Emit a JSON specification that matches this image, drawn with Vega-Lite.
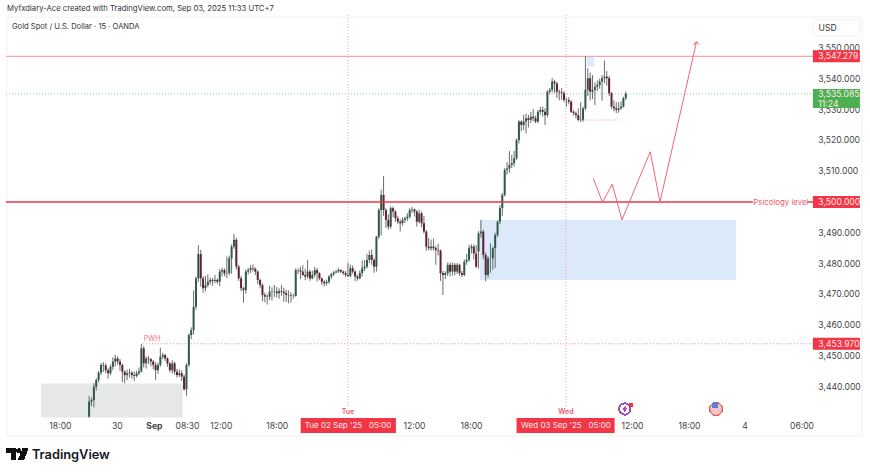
{"$schema":"https://vega.github.io/schema/vega-lite/v6.json","width":805,"height":403,"autosize":{"type":"none"},"padding":{"left":6,"right":59,"top":15,"bottom":56},"background":"#ffffff","config":{"view":{"stroke":null},"font":"Inter","text":{"font":"Inter"},"axis":{"labelOverlap":false,"labelSeparation":0}},"title":{"text":"Myfxdiary-Ace created with TradingView.com, Sep 03, 2025 11:33 UTC+7","anchor":"start","frame":"group","offset":2,"dx":1,"fontSize":7.7,"font":"Inter","fontWeight":"normal","color":"#333333"},
"data":{"name":"candles","values":[
{"i":35,"o":3430.3,"h":3437,"l":3430,"c":3435.2},{"i":36,"o":3435.2,"h":3436.5,"l":3433.8,"c":3435.7},{"i":37,"o":3435.7,"h":3441.2,"l":3433.3,"c":3440},{"i":38,"o":3440,"h":3442.8,"l":3438.8,"c":3442.2},{"i":39,"o":3442.2,"h":3445.2,"l":3441.4,"c":3444.6},{"i":40,"o":3444.6,"h":3447.7,"l":3443.8,"c":3447.1},{"i":41,"o":3447.1,"h":3448,"l":3444.8,"c":3446.9},{"i":42,"o":3446.9,"h":3447.6,"l":3444.4,"c":3445.4},{"i":43,"o":3445.4,"h":3446,"l":3442.6,"c":3444.4},{"i":44,"o":3444.4,"h":3447.2,"l":3443.8,"c":3446.5},{"i":45,"o":3446.5,"h":3449.6,"l":3445.4,"c":3448.2},{"i":46,"o":3448.2,"h":3450.4,"l":3446.6,"c":3449.2},{"i":47,"o":3449.2,"h":3449.9,"l":3447.2,"c":3448.2},{"i":48,"o":3448.2,"h":3449,"l":3445.2,"c":3447.1},{"i":49,"o":3447.1,"h":3447.5,"l":3441.5,"c":3444.9},{"i":50,"o":3444.9,"h":3445.3,"l":3441.2,"c":3443.8},{"i":51,"o":3443.8,"h":3445.6,"l":3442.2,"c":3444.4},{"i":52,"o":3444.4,"h":3445.9,"l":3443,"c":3444.6},{"i":53,"o":3444.6,"h":3445.1,"l":3442.6,"c":3443.8},{"i":54,"o":3443.8,"h":3445,"l":3441.9,"c":3443.5},{"i":55,"o":3443.5,"h":3445.2,"l":3443,"c":3444.4},{"i":56,"o":3444.4,"h":3446.3,"l":3443.8,"c":3445},{"i":57,"o":3445,"h":3453.9,"l":3444.6,"c":3452.5},{"i":58,"o":3452.5,"h":3453.2,"l":3446.3,"c":3447.6},{"i":59,"o":3447.6,"h":3449.9,"l":3445.9,"c":3449.2},{"i":60,"o":3449.2,"h":3450,"l":3447.4,"c":3449},{"i":61,"o":3449,"h":3449.3,"l":3446.7,"c":3448.2},{"i":62,"o":3448.2,"h":3448.7,"l":3445.7,"c":3447.1},{"i":63,"o":3447.1,"h":3448,"l":3442.2,"c":3445.4},{"i":64,"o":3445.4,"h":3447.8,"l":3444.2,"c":3447.1},{"i":65,"o":3447.1,"h":3452.7,"l":3446.5,"c":3449.8},{"i":66,"o":3449.8,"h":3451,"l":3449,"c":3450.3},{"i":67,"o":3450.3,"h":3450.7,"l":3448.4,"c":3449.2},{"i":68,"o":3449.2,"h":3449.6,"l":3446.5,"c":3447.6},{"i":69,"o":3447.6,"h":3448,"l":3444.7,"c":3445.4},{"i":70,"o":3445.4,"h":3448.6,"l":3444.3,"c":3447.6},{"i":71,"o":3447.6,"h":3448.2,"l":3443.9,"c":3444.9},{"i":72,"o":3444.9,"h":3445.8,"l":3443,"c":3443.8},{"i":73,"o":3443.8,"h":3445.6,"l":3443.2,"c":3444.4},{"i":74,"o":3444.4,"h":3445.3,"l":3441.9,"c":3443.3},{"i":75,"o":3443.3,"h":3444,"l":3438.7,"c":3439.2},{"i":76,"o":3439.2,"h":3447.6,"l":3437.1,"c":3447.1},{"i":77,"o":3447.1,"h":3457.4,"l":3446.5,"c":3456.8},{"i":78,"o":3456.8,"h":3459.3,"l":3455.5,"c":3458.4},{"i":79,"o":3458.4,"h":3471.3,"l":3457,"c":3466},{"i":80,"o":3466,"h":3475.8,"l":3465,"c":3475.2},{"i":81,"o":3475.2,"h":3486,"l":3474,"c":3483.1},{"i":82,"o":3483.1,"h":3484.5,"l":3472.5,"c":3475.2},{"i":83,"o":3475.2,"h":3476,"l":3470.5,"c":3472},{"i":84,"o":3472,"h":3476,"l":3471,"c":3473},{"i":85,"o":3473,"h":3476.5,"l":3472.4,"c":3474.1},{"i":86,"o":3474.1,"h":3475.5,"l":3473.2,"c":3474.7},{"i":87,"o":3474.7,"h":3475.3,"l":3472.8,"c":3474.4},{"i":88,"o":3474.4,"h":3476.3,"l":3473.6,"c":3474.7},{"i":89,"o":3474.7,"h":3475.2,"l":3473.4,"c":3474.1},{"i":90,"o":3474.1,"h":3478.3,"l":3472.7,"c":3477.4},{"i":91,"o":3477.4,"h":3478.6,"l":3475.8,"c":3477.9},{"i":92,"o":3477.9,"h":3478.4,"l":3475.9,"c":3476.8},{"i":93,"o":3476.8,"h":3482.3,"l":3475.3,"c":3476.9},{"i":94,"o":3476.9,"h":3482.6,"l":3476.2,"c":3481.7},{"i":95,"o":3481.7,"h":3486.2,"l":3476.7,"c":3485.5},{"i":96,"o":3485.5,"h":3489.6,"l":3484.8,"c":3487.7},{"i":97,"o":3487.7,"h":3488.4,"l":3478,"c":3479},{"i":98,"o":3479,"h":3479.6,"l":3474.4,"c":3475.2},{"i":99,"o":3475.2,"h":3476,"l":3471,"c":3472},{"i":100,"o":3472,"h":3472.5,"l":3467.3,"c":3471.4},{"i":101,"o":3471.4,"h":3478.1,"l":3470.2,"c":3477.4},{"i":102,"o":3477.4,"h":3478.6,"l":3476.5,"c":3477.9},{"i":103,"o":3477.9,"h":3479.5,"l":3476.9,"c":3478.5},{"i":104,"o":3478.5,"h":3479.7,"l":3477.4,"c":3478.3},{"i":105,"o":3478.3,"h":3478.8,"l":3476.3,"c":3477.4},{"i":106,"o":3477.4,"h":3477.8,"l":3473.4,"c":3474.7},{"i":107,"o":3474.7,"h":3475.1,"l":3472,"c":3473},{"i":108,"o":3473,"h":3473.6,"l":3467.8,"c":3469.8},{"i":109,"o":3469.8,"h":3470.6,"l":3467.4,"c":3469.3},{"i":110,"o":3469.3,"h":3470.1,"l":3466.7,"c":3469.2},{"i":111,"o":3469.2,"h":3472.8,"l":3468.1,"c":3470.9},{"i":112,"o":3470.9,"h":3472.3,"l":3468,"c":3470.8},{"i":113,"o":3470.8,"h":3473.1,"l":3469.2,"c":3470.9},{"i":114,"o":3470.9,"h":3472.4,"l":3469,"c":3470.4},{"i":115,"o":3470.4,"h":3472,"l":3468.6,"c":3471.1},{"i":116,"o":3471.1,"h":3473,"l":3469.5,"c":3470.9},{"i":117,"o":3470.9,"h":3472.2,"l":3467.6,"c":3470.4},{"i":118,"o":3470.4,"h":3471.5,"l":3467.5,"c":3469.8},{"i":119,"o":3469.8,"h":3471.3,"l":3467.1,"c":3469.7},{"i":120,"o":3469.7,"h":3470.7,"l":3467.3,"c":3469.5},{"i":121,"o":3469.5,"h":3470.2,"l":3468.6,"c":3469.5},{"i":122,"o":3469.5,"h":3478.4,"l":3469.2,"c":3477.9},{"i":123,"o":3477.9,"h":3478.5,"l":3476.6,"c":3477.8},{"i":124,"o":3477.8,"h":3479,"l":3475,"c":3477.4},{"i":125,"o":3477.4,"h":3479.5,"l":3475.9,"c":3476.3},{"i":126,"o":3476.3,"h":3478.3,"l":3474.6,"c":3475.8},{"i":127,"o":3475.8,"h":3481.2,"l":3475.2,"c":3477.4},{"i":128,"o":3477.4,"h":3478,"l":3474.4,"c":3475.2},{"i":129,"o":3475.2,"h":3477.6,"l":3474.9,"c":3476.3},{"i":130,"o":3476.3,"h":3478.9,"l":3475.7,"c":3477.9},{"i":131,"o":3477.9,"h":3478.6,"l":3474.2,"c":3476.9},{"i":132,"o":3476.9,"h":3477.2,"l":3474.6,"c":3475.2},{"i":133,"o":3475.2,"h":3475.5,"l":3473,"c":3474.1},{"i":134,"o":3474.1,"h":3474.6,"l":3472.6,"c":3473.6},{"i":135,"o":3473.6,"h":3474.8,"l":3472.9,"c":3474.1},{"i":136,"o":3474.1,"h":3476.2,"l":3473.4,"c":3475.8},{"i":137,"o":3475.8,"h":3477,"l":3475,"c":3476.6},{"i":138,"o":3476.6,"h":3477.6,"l":3476,"c":3477.1},{"i":139,"o":3477.1,"h":3478,"l":3476.8,"c":3477.4},{"i":140,"o":3477.4,"h":3478.6,"l":3477,"c":3477.9},{"i":141,"o":3477.9,"h":3478.2,"l":3476.9,"c":3477.4},{"i":142,"o":3477.4,"h":3477.8,"l":3476.3,"c":3476.9},{"i":143,"o":3476.9,"h":3477.6,"l":3475.7,"c":3476.3},{"i":144,"o":3476.3,"h":3480.3,"l":3475.6,"c":3476},{"i":145,"o":3476,"h":3479.7,"l":3475.5,"c":3478.5},{"i":146,"o":3478.5,"h":3479.4,"l":3476.7,"c":3477.4},{"i":147,"o":3477.4,"h":3477.8,"l":3474.3,"c":3475.8},{"i":148,"o":3475.8,"h":3476.4,"l":3474.5,"c":3475.2},{"i":149,"o":3475.2,"h":3477.8,"l":3474.9,"c":3476.9},{"i":150,"o":3476.9,"h":3481,"l":3475.8,"c":3478.5},{"i":151,"o":3478.5,"h":3481.2,"l":3477.6,"c":3479},{"i":152,"o":3479,"h":3483.2,"l":3478.4,"c":3481.2},{"i":153,"o":3481.2,"h":3484.2,"l":3480.2,"c":3482.8},{"i":154,"o":3482.8,"h":3484.6,"l":3479.6,"c":3481.2},{"i":155,"o":3481.2,"h":3481.8,"l":3477,"c":3479},{"i":156,"o":3479,"h":3489,"l":3477.4,"c":3488.7},{"i":157,"o":3488.7,"h":3498,"l":3488,"c":3497.4},{"i":158,"o":3497.4,"h":3504,"l":3489.2,"c":3502.3},{"i":159,"o":3502.3,"h":3508.4,"l":3495.5,"c":3497.4},{"i":160,"o":3497.4,"h":3498,"l":3491.6,"c":3494.2},{"i":161,"o":3494.2,"h":3496,"l":3491,"c":3492},{"i":162,"o":3492,"h":3498.6,"l":3491.3,"c":3498},{"i":163,"o":3498,"h":3498.5,"l":3495,"c":3496.9},{"i":164,"o":3496.9,"h":3497.3,"l":3493.6,"c":3494.7},{"i":165,"o":3494.7,"h":3495.5,"l":3492.8,"c":3493.6},{"i":166,"o":3493.6,"h":3494.3,"l":3490.4,"c":3493.1},{"i":167,"o":3493.1,"h":3495,"l":3492.3,"c":3494.2},{"i":168,"o":3494.2,"h":3495.3,"l":3493.2,"c":3494.7},{"i":169,"o":3494.7,"h":3496.4,"l":3493.8,"c":3495.2},{"i":170,"o":3495.2,"h":3498,"l":3494.6,"c":3497.4},{"i":171,"o":3497.4,"h":3498.4,"l":3496.4,"c":3497.6},{"i":172,"o":3497.6,"h":3497.9,"l":3495.3,"c":3496.9},{"i":173,"o":3496.9,"h":3497.4,"l":3492,"c":3493.6},{"i":174,"o":3493.6,"h":3497.5,"l":3493,"c":3496.3},{"i":175,"o":3496.3,"h":3496.9,"l":3491.8,"c":3493.1},{"i":176,"o":3493.1,"h":3495.5,"l":3489.8,"c":3490.4},{"i":177,"o":3490.4,"h":3490.9,"l":3484.2,"c":3485.5},{"i":178,"o":3485.5,"h":3488.3,"l":3484.3,"c":3485},{"i":179,"o":3485,"h":3487.8,"l":3484.2,"c":3485.5},{"i":180,"o":3485.5,"h":3488.1,"l":3484.2,"c":3485},{"i":181,"o":3485,"h":3485.8,"l":3479.6,"c":3484.4},{"i":182,"o":3484.4,"h":3486.4,"l":3482.6,"c":3484.2},{"i":183,"o":3484.2,"h":3484.6,"l":3474.4,"c":3476.9},{"i":184,"o":3476.9,"h":3477.6,"l":3469.8,"c":3476.3},{"i":185,"o":3476.3,"h":3477.5,"l":3475,"c":3476.9},{"i":186,"o":3476.9,"h":3480.3,"l":3476,"c":3479.6},{"i":187,"o":3479.6,"h":3480.4,"l":3475.8,"c":3477.4},{"i":188,"o":3477.4,"h":3480.4,"l":3476.1,"c":3479.6},{"i":189,"o":3479.6,"h":3480.2,"l":3476.2,"c":3477.4},{"i":190,"o":3477.4,"h":3480.2,"l":3476.6,"c":3479.6},{"i":191,"o":3479.6,"h":3480,"l":3476,"c":3476.9},{"i":192,"o":3476.9,"h":3477.6,"l":3475.6,"c":3476.3},{"i":193,"o":3476.3,"h":3481.4,"l":3475.9,"c":3480.6},{"i":194,"o":3480.6,"h":3483.2,"l":3479.6,"c":3481.2},{"i":195,"o":3481.2,"h":3486.1,"l":3480.6,"c":3485},{"i":196,"o":3485,"h":3486.3,"l":3483.3,"c":3485.5},{"i":197,"o":3485.5,"h":3486.2,"l":3481.4,"c":3483.3},{"i":198,"o":3483.3,"h":3486,"l":3478.6,"c":3479},{"i":199,"o":3483.9,"h":3490.5,"l":3478.4,"c":3489.8},{"i":200,"o":3489.8,"h":3494.2,"l":3488.4,"c":3490.4},{"i":201,"o":3490.4,"h":3491,"l":3481.4,"c":3482.8},{"i":202,"o":3482.8,"h":3483.6,"l":3474.2,"c":3476.3},{"i":203,"o":3476.3,"h":3482.4,"l":3475.4,"c":3481.7},{"i":204,"o":3481.7,"h":3486.6,"l":3477,"c":3481.7},{"i":205,"o":3481.7,"h":3485.6,"l":3478,"c":3485},{"i":206,"o":3485,"h":3490,"l":3478.6,"c":3489.3},{"i":207,"o":3489.3,"h":3494,"l":3488.6,"c":3493.6},{"i":208,"o":3493.6,"h":3499,"l":3492.8,"c":3498},{"i":209,"o":3498,"h":3502.9,"l":3495.5,"c":3502.3},{"i":210,"o":3502.3,"h":3511,"l":3501.8,"c":3510.4},{"i":211,"o":3510.4,"h":3513,"l":3508.9,"c":3510.9},{"i":212,"o":3510.9,"h":3516.5,"l":3509.5,"c":3512},{"i":213,"o":3512,"h":3515.3,"l":3511,"c":3512.6},{"i":214,"o":3512.6,"h":3516.6,"l":3511.5,"c":3514.2},{"i":215,"o":3514.2,"h":3520.6,"l":3513.7,"c":3520.1},{"i":216,"o":3520.1,"h":3526.6,"l":3519,"c":3526.1},{"i":217,"o":3526.1,"h":3526.5,"l":3523,"c":3525},{"i":218,"o":3525,"h":3528.3,"l":3523.4,"c":3526.1},{"i":219,"o":3526.1,"h":3528.6,"l":3522.3,"c":3527.2},{"i":220,"o":3527.2,"h":3528.3,"l":3524.2,"c":3526.6},{"i":221,"o":3526.6,"h":3529.2,"l":3525.6,"c":3527.7},{"i":222,"o":3527.7,"h":3530.2,"l":3526.2,"c":3527.2},{"i":223,"o":3527.2,"h":3528,"l":3525.6,"c":3526.1},{"i":224,"o":3526.1,"h":3529.8,"l":3525.5,"c":3529.3},{"i":225,"o":3529.3,"h":3530.9,"l":3528.4,"c":3529.9},{"i":226,"o":3529.9,"h":3531,"l":3527.7,"c":3529.3},{"i":227,"o":3529.3,"h":3530.5,"l":3525,"c":3528.2},{"i":228,"o":3528.2,"h":3536.3,"l":3527.5,"c":3535.8},{"i":229,"o":3535.8,"h":3537,"l":3535,"c":3536.4},{"i":230,"o":3536.4,"h":3540.2,"l":3535.6,"c":3539.1},{"i":231,"o":3539.1,"h":3539.7,"l":3535.3,"c":3538.5},{"i":232,"o":3538.5,"h":3539,"l":3533.8,"c":3535.8},{"i":233,"o":3535.8,"h":3536.5,"l":3533,"c":3535.6},{"i":234,"o":3535.6,"h":3537,"l":3533.2,"c":3535.3},{"i":235,"o":3535.3,"h":3536,"l":3532.4,"c":3533.1},{"i":236,"o":3533.1,"h":3533.8,"l":3530.9,"c":3533.1},{"i":237,"o":3533.1,"h":3534,"l":3531.7,"c":3532.6},{"i":238,"o":3532.6,"h":3533,"l":3528.9,"c":3529.3},{"i":239,"o":3529.3,"h":3529.8,"l":3528.1,"c":3528.8},{"i":240,"o":3528.8,"h":3529.4,"l":3527.2,"c":3528.2},{"i":241,"o":3528.2,"h":3530.4,"l":3526.2,"c":3526.6},{"i":242,"o":3526.6,"h":3532.4,"l":3526,"c":3526.7},{"i":243,"o":3526.7,"h":3531,"l":3526,"c":3530.4},{"i":244,"o":3530.4,"h":3547.3,"l":3529.8,"c":3536.4},{"i":245,"o":3536.4,"h":3543.4,"l":3534.4,"c":3540.2},{"i":246,"o":3540.2,"h":3542,"l":3533,"c":3535.8},{"i":247,"o":3535.8,"h":3541.2,"l":3533.4,"c":3536.4},{"i":248,"o":3536.4,"h":3538.8,"l":3531.5,"c":3537.4},{"i":249,"o":3537.4,"h":3539.5,"l":3536,"c":3538},{"i":250,"o":3538,"h":3540,"l":3536.8,"c":3539.1},{"i":251,"o":3539.1,"h":3541.2,"l":3532.9,"c":3540.2},{"i":252,"o":3540.2,"h":3545.9,"l":3538.5,"c":3540.7},{"i":253,"o":3540.7,"h":3542.5,"l":3537.8,"c":3540.2},{"i":254,"o":3540.2,"h":3541,"l":3534.4,"c":3535.3},{"i":255,"o":3535.3,"h":3535.7,"l":3530.3,"c":3531},{"i":256,"o":3531,"h":3533,"l":3529.4,"c":3530.4},{"i":257,"o":3530.4,"h":3532.4,"l":3528.8,"c":3529.9},{"i":258,"o":3529.9,"h":3532.4,"l":3529,"c":3530.4},{"i":259,"o":3530.4,"h":3532.7,"l":3530,"c":3531},{"i":260,"o":3531,"h":3534.2,"l":3530.6,"c":3533.7},{"i":261,"o":3533.7,"h":3535.9,"l":3533.1,"c":3535.085}
]},
"layer":[
{"data":{"values":[{"x0":0.4,"x1":360.5,"y0":3560.06,"y1":3424}]},"mark":{"type":"rect","fill":"transparent","stroke":"#f1f1f1","strokeWidth":1},"encoding":{
"x":{"field":"x0","type":"quantitative","title":null,"scale":{"domain":[0,339],"nice":false,"zero":false,"padding":0},"axis":{"title":null,"values":[22.7,46.7,62.3,76.2,90.5,114,171.8,195.8,263.6,287.6,311,335],"labelExpr":"['18:00','30','Sep','08:30','12:00','18:00','12:00','18:00','12:00','18:00','4','06:00'][indexof([22.7,46.7,62.3,76.2,90.5,114,171.8,195.8,263.6,287.6,311,335],datum.value)]","domain":false,"ticks":false,"grid":false,"labelFontSize":8.6,"labelFont":"Inter","labelColor":"#444444","labelPadding":3,"labelOverlap":false,"labelBound":false,"labelFlush":false,"labelFontWeight":{"condition":{"test":"datum.value==62.3","value":"bold"},"value":"normal"}}},
"x2":{"field":"x1"},
"y":{"field":"y0","type":"quantitative","title":null,"scale":{"domain":[3429.87,3560.71],"nice":false,"zero":false,"padding":0},"axis":null},
"y2":{"field":"y1"}}},
{"data":{"values":[{"price":3550,"label":"3,550.000"},{"price":3540,"label":"3,540.000"},{"price":3530,"label":"3,530.000"},{"price":3520,"label":"3,520.000"},{"price":3510,"label":"3,510.000"},{"price":3500,"label":"3,500.000"},{"price":3490,"label":"3,490.000"},{"price":3480,"label":"3,480.000"},{"price":3470,"label":"3,470.000"},{"price":3460,"label":"3,460.000"},{"price":3450,"label":"3,450.000"},{"price":3440,"label":"3,440.000"}]},"mark":{"type":"text","font":"Inter","fontSize":8.6,"color":"#444444","align":"left","baseline":"middle"},"encoding":{"y":{"field":"price","type":"quantitative","axis":null},"x":{"datum":342.1},"text":{"field":"label"}}},
{"data":{"values":[{"x0":14.7,"x1":74.4,"y0":3441.1,"y1":3430}]},"mark":{"type":"rect","fill":"#e6e7e9"},"encoding":{"x":{"field":"x0","type":"quantitative"},"x2":{"field":"x1"},"y":{"field":"y0","type":"quantitative"},"y2":{"field":"y1"}}},
{"data":{"values":[{"x0":199.6,"x1":307.4,"y0":3494.2,"y1":3474.7},{"x0":244.5,"x1":247.6,"y0":3547.2,"y1":3544}]},"mark":{"type":"rect","fill":"#dbe9fb"},"encoding":{"x":{"field":"x0","type":"quantitative"},"x2":{"field":"x1"},"y":{"field":"y0","type":"quantitative"},"y2":{"field":"y1"}}},
{"data":{"values":[{"i":144},{"i":235.8}]},"mark":{"type":"rule","color":"#f2a0aa","strokeWidth":1,"strokeDash":[1,2]},"encoding":{"x":{"field":"i","type":"quantitative"},"y":{"datum":3560.7},"y2":{"datum":3433.5}}},
{"data":{"values":[{"price":3547.279}]},"mark":{"type":"rule","color":"#f6a3ad","strokeWidth":1.4},"encoding":{"y":{"field":"price","type":"quantitative"},"x":{"datum":0},"x2":{"datum":339.8}}},
{"data":{"values":[{"price":3535.085}]},"mark":{"type":"rule","color":"#93cc9e","strokeWidth":1,"strokeDash":[1,2]},"encoding":{"y":{"field":"price","type":"quantitative"},"x":{"datum":0},"x2":{"datum":339.8}}},
{"data":{"values":[{"price":3453.97}]},"mark":{"type":"rule","color":"#ef8b97","strokeWidth":1,"strokeDash":[1,2]},"encoding":{"y":{"field":"price","type":"quantitative"},"x":{"datum":57.7},"x2":{"datum":339.8}}},
{"data":{"values":[{"price":3526.6}]},"mark":{"type":"rule","color":"#ef8b97","strokeWidth":1,"strokeDash":[1,2]},"encoding":{"y":{"field":"price","type":"quantitative"},"x":{"datum":242.4},"x2":{"datum":257.8}}},
{"mark":{"type":"rule","strokeWidth":1,"color":"#4f5552","opacity":0.85},"encoding":{"x":{"field":"i","type":"quantitative"},"y":{"field":"l","type":"quantitative"},"y2":{"field":"h"}}},
{"mark":{"type":"bar","width":2},"encoding":{"x":{"field":"i","type":"quantitative"},"y":{"field":"o","type":"quantitative"},"y2":{"field":"c"},"color":{"condition":{"test":"datum.c>=datum.o","value":"#2e5a46"},"value":"#5f2030"}}},
{"data":{"values":[{"price":3500}]},"mark":{"type":"rule","color":"#e8374b","strokeWidth":1.5},"encoding":{"y":{"field":"price","type":"quantitative"},"x":{"datum":0},"x2":{"datum":339.8}}},
{"data":{"values":[{"s":1,"b":247.3,"p":3507.7},{"s":2,"b":251.2,"p":3499.9},{"s":3,"b":255.3,"p":3505.8},{"s":4,"b":259.4,"p":3494.2},{"s":5,"b":271.3,"p":3516.3},{"s":6,"b":275.4,"p":3500},{"s":7,"b":290.8,"p":3552},{"s":8,"b":289.6,"p":3551},{"s":9,"b":290.8,"p":3552},{"s":10,"b":292,"p":3551.1}]},"mark":{"type":"line","color":"#ee6677","strokeWidth":1,"interpolate":"linear"},"encoding":{"x":{"field":"b","type":"quantitative"},"y":{"field":"p","type":"quantitative"},"order":{"field":"s"}}},
{"data":{"values":[{"price":3500}]},"mark":{"type":"rule","color":"#ffffff","strokeWidth":4},"encoding":{"y":{"field":"price","type":"quantitative"},"x":{"datum":314.5},"x2":{"datum":337.5}}},
{"data":{"values":[{"b":326.3,"p":3499.8,"t":"Psicology level"}]},"mark":{"type":"text","font":"Inter","fontSize":7.8,"color":"#ee5a6f","align":"center","baseline":"middle"},"encoding":{"x":{"field":"b","type":"quantitative"},"y":{"field":"p","type":"quantitative"},"text":{"field":"t"}}},
{"data":{"values":[{"b":61.5,"p":3455.6,"t":"PWH"}]},"mark":{"type":"text","font":"Inter","fontSize":7,"color":"#e8747f","align":"center","baseline":"middle"},"encoding":{"x":{"field":"b","type":"quantitative"},"y":{"field":"p","type":"quantitative"},"text":{"field":"t"}}},
{"data":{"values":[{"b":2.5,"p":3556.8,"t":"Gold Spot / U.S. Dollar · 15 · OANDA"}]},"mark":{"type":"text","font":"Inter","fontSize":7.6,"color":"#333333","align":"left","baseline":"middle"},"encoding":{"x":{"field":"b","type":"quantitative"},"y":{"field":"p","type":"quantitative"},"text":{"field":"t"}}},
{"data":{"values":[{"x0":339.8,"x1":359.6,"y0":3559.1,"y1":3553.9}]},"mark":{"type":"rect","fill":"#ffffff","stroke":"#f1f1f1","cornerRadius":2},"encoding":{"x":{"field":"x0","type":"quantitative"},"x2":{"field":"x1"},"y":{"field":"y0","type":"quantitative"},"y2":{"field":"y1"}}},
{"data":{"values":[{"b":346,"p":3556.5,"t":"USD"}]},"mark":{"type":"text","font":"Inter","fontSize":8.6,"color":"#333333","align":"center","baseline":"middle"},"encoding":{"x":{"field":"b","type":"quantitative"},"y":{"field":"p","type":"quantitative"},"text":{"field":"t"}}},
{"data":{"values":[{"price":3547.279},{"price":3500},{"price":3453.97}]},"mark":{"type":"rule","color":"#f23645","strokeWidth":12},"encoding":{"y":{"field":"price","type":"quantitative"},"x":{"datum":339.8},"x2":{"datum":359.6}}},
{"data":{"values":[{"y0":3536.7,"y1":3530.5}]},"mark":{"type":"rect","fill":"#4caf50"},"encoding":{"y":{"field":"y0","type":"quantitative"},"y2":{"field":"y1"},"x":{"datum":339.8},"x2":{"datum":359.6}}},
{"data":{"values":[{"price":3547.279,"label":"3,547.279"},{"price":3500,"label":"3,500.000"},{"price":3453.97,"label":"3,453.970"},{"price":3535.06,"label":"3,535.085"},{"price":3531.8,"label":"11:24"}]},"mark":{"type":"text","font":"Inter","fontSize":8.6,"color":"#ffe9ec","align":"left","baseline":"middle"},"encoding":{"y":{"field":"price","type":"quantitative"},"x":{"datum":342.1},"text":{"field":"label"}}},
{"data":{"values":[{"b0":124.1,"b1":164.2,"d":144,"t":"Tue 02 Sep '25\u00a0\u00a0 05:00","w":"Tue"},{"b0":215,"b1":256.3,"d":235.8,"t":"Wed 03 Sep '25\u00a0\u00a0 05:00","w":"Wed"}]},"layer":[
{"mark":{"type":"rect","fill":"#f23645"},"encoding":{"x":{"field":"b0","type":"quantitative"},"x2":{"field":"b1"},"y":{"datum":3429.9},"y2":{"datum":3425}}},
{"mark":{"type":"text","font":"Inter","fontSize":8,"color":"#ffe9ec","align":"center","baseline":"middle"},"encoding":{"x":{"field":"d","type":"quantitative"},"y":{"datum":3427.2},"text":{"field":"t"}}},
{"mark":{"type":"text","font":"Inter","fontSize":7,"fontWeight":600,"color":"#ee5a6f","align":"center","baseline":"middle"},"encoding":{"x":{"field":"d","type":"quantitative"},"y":{"datum":3431.8},"text":{"field":"w"}}}]},
{"mark":{"type":"point","filled":false,"stroke":"#a445c8","strokeWidth":1,"opacity":1,"shape":"circle","size":130},"encoding":{"x":{"datum":260.6},"y":{"datum":3432.8}}},
{"mark":{"type":"point","filled":true,"fill":"#a445c8","opacity":1,"shape":"M.2 -1 L-.5 .15 L0 .15 L-.2 1 L.5 -.2 L0 -.2 Z","size":30},"encoding":{"x":{"datum":260.6},"y":{"datum":3432.8}}},
{"mark":{"type":"point","filled":true,"fill":"#f23645","opacity":1,"shape":"circle","size":12},"encoding":{"x":{"datum":263.2},"y":{"datum":3434.2}}},
{"mark":{"type":"point","filled":true,"fill":"#f6c4c4","stroke":"#e8585a","strokeWidth":1,"opacity":1,"shape":"circle","size":160},"encoding":{"x":{"datum":299},"y":{"datum":3432.8}}},
{"mark":{"type":"point","filled":true,"fill":"#5b7fd6","opacity":1,"shape":"square","size":22},"encoding":{"x":{"datum":298.6},"y":{"datum":3434}}},
{"mark":{"type":"point","filled":true,"fill":"#111111","opacity":1,"shape":"M-.2 -.5 H-1 V-.1 H-.6 V.5 H-.2 Z M.6 .5 H.133 L.533 -.5 H1 Z M.133 -.1 A.2 .2 0 1 0 .133 -.5 A.2 .2 0 0 0 .133 -.1 Z","size":441},"encoding":{"x":{"datum":4.8},"y":{"datum":3418.2}}},
{"data":{"values":[{"b":10.9,"p":3417.9,"t":"TradingView"}]},"mark":{"type":"text","font":"Inter","fontSize":12.8,"fontWeight":600,"color":"#131722","align":"left","baseline":"middle"},"encoding":{"x":{"field":"b","type":"quantitative"},"y":{"field":"p","type":"quantitative"},"text":{"field":"t"}}}
]}
